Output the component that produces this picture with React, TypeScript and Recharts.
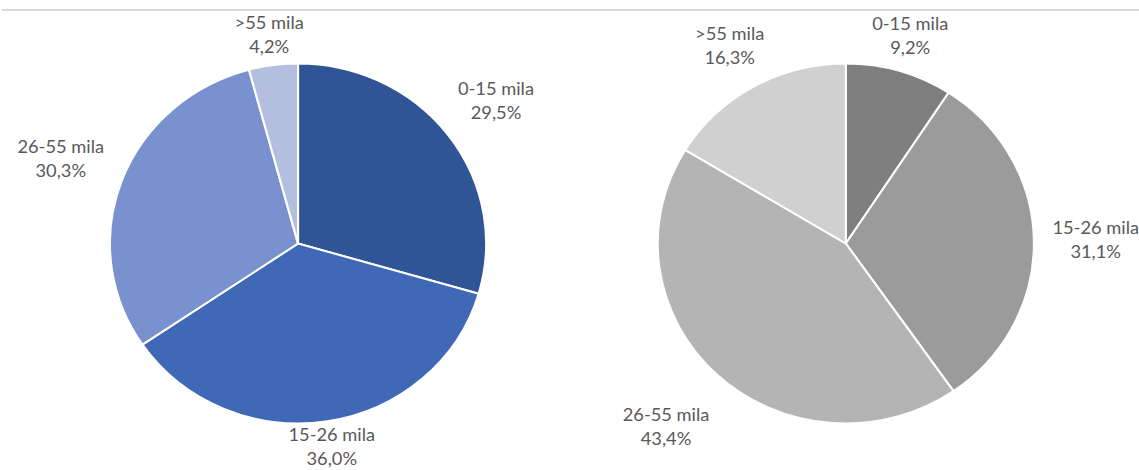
import React from 'react'
import { PieChart, Pie, Cell } from 'recharts'

const categoriesLeft = ['0-15 mila', '15-26 mila', '26-55 mila', '>55 mila']
const valuesLeft = [29.5, 36.0, 30.3, 4.2]
const colorsLeft = ['#2f5597', '#3f69b7', '#7a91cf', '#b4bfe0']

const categoriesRight = ['0-15 mila', '15-26 mila', '26-55 mila', '>55 mila']
const valuesRight = [9.2, 31.1, 43.4, 16.3]
const colorsRight = ['#7f7f7f', '#9b9b9b', '#b4b4b4', '#d0d0d0']

// gap between pie edge and nearest edge of each label box (labels were nudged by hand)
const labelGapLeft = [16, 5, 17, 9]
const labelGapRight = [10, 18, 30, 15]

const leftData = categoriesLeft.map((name, i) => ({ name, value: valuesLeft[i] }))
const rightData = categoriesRight.map((name, i) => ({ name, value: valuesRight[i] }))

const RAD = Math.PI / 180
const fmt = (v: number) => v.toFixed(1).replace('.', ',') + '%'

// the reference picture is a bit stretched sideways, so draw narrower and scale
const SX = 1.045
const W = Math.round(1139 / SX)
const CHAR_W = 8.23
const HALF_H = 19

const makeLabel = (gaps: number[]) => (props: any) => {
  const { cx, cy, midAngle, outerRadius, name, value, index } = props
  const s = Math.cos(-midAngle * RAD)
  const c = Math.sin(-midAngle * RAD)
  const label = fmt(value)
  const hw = (Math.max(name.length, label.length) * CHAR_W) / 2
  const target = outerRadius + gaps[index]
  // push the box out along the slice direction until its nearest edge hits target
  const dist = (t: number) => {
    const ex = Math.max(Math.abs(t * s) - hw, 0)
    const ey = Math.max(Math.abs(t * c) - HALF_H, 0)
    return Math.sqrt(ex * ex + ey * ey)
  }
  let lo = 0
  let hi = 800
  for (let k = 0; k < 40; k++) {
    const mid = (lo + hi) / 2
    if (dist(mid) < target) lo = mid
    else hi = mid
  }
  const x = cx + lo * s
  const y = cy + lo * c
  return (
    <text
      x={x}
      y={y}
      textAnchor="middle"
      fill="#595959"
      fontFamily="Lato, 'Open Sans', sans-serif"
      fontSize={17.5}
    >
      <tspan x={x} dy={-6}>{name}</tspan>
      <tspan x={x} dy={24}>{label}</tspan>
    </text>
  )
}

export default function App() {
  return (
    <div style={{ position: 'absolute', left: 0, top: 0, width: 1139, height: 470, background: '#fff', overflow: 'hidden' }}>
      <div style={{ position: 'absolute', left: 2, top: 9, width: 1137, height: 2, background: '#d9d9d9' }} />
      <div style={{ position: 'absolute', left: 0, top: 0, transform: `scaleX(${SX})`, transformOrigin: '0 0' }}>
        <PieChart width={W} height={470} margin={{ top: 0, right: 0, bottom: 0, left: 0 }}>
          <Pie
            data={leftData}
            dataKey="value"
            nameKey="name"
            cx={285.2}
            cy={243.5}
            outerRadius={180}
            startAngle={90}
            endAngle={-270}
            stroke="#fff"
            strokeWidth={2}
            label={makeLabel(labelGapLeft)}
            labelLine={false}
            isAnimationActive={false}
          >
            {leftData.map((d, i) => (
              <Cell key={d.name} fill={colorsLeft[i]} />
            ))}
          </Pie>
          <Pie
            data={rightData}
            dataKey="value"
            nameKey="name"
            cx={809.4}
            cy={243.5}
            outerRadius={180}
            startAngle={90}
            endAngle={-270}
            stroke="#fff"
            strokeWidth={2}
            label={makeLabel(labelGapRight)}
            labelLine={false}
            isAnimationActive={false}
          >
            {rightData.map((d, i) => (
              <Cell key={d.name} fill={colorsRight[i]} />
            ))}
          </Pie>
        </PieChart>
      </div>
    </div>
  )
}
